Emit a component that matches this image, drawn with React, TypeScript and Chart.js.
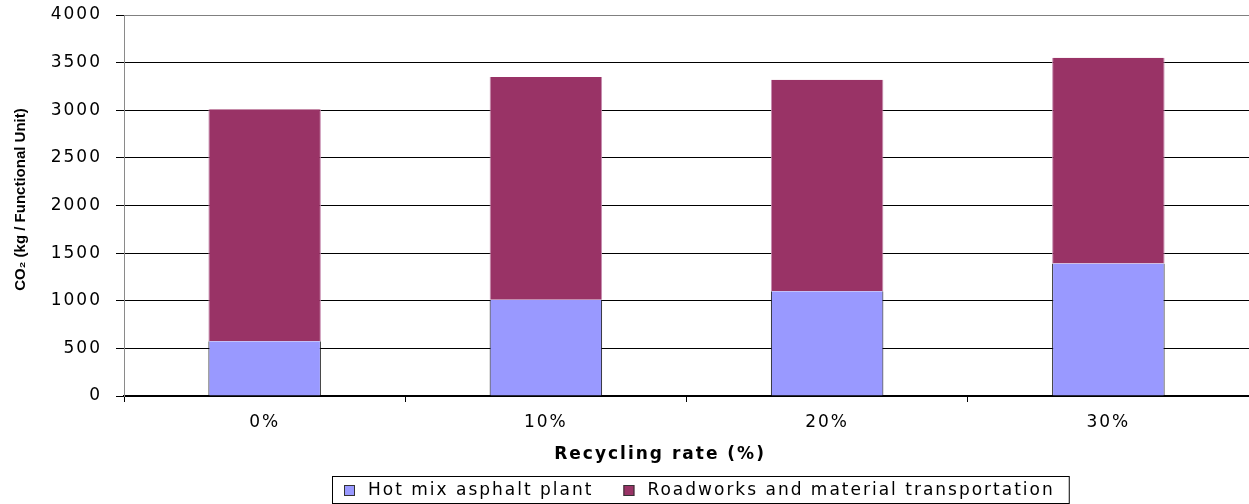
import { useEffect, useRef } from 'react';
import { Chart, registerables } from 'chart.js';

Chart.register(...registerables);

const categories = ['0%', '10%', '20%', '30%'];
const hotMixPlant = [575, 1010, 1100, 1390];
const roadworksTransport = [2435, 2340, 2220, 2160];
const seriesLabels = ['Hot mix asphalt plant', 'Roadworks and material transportation'];
const seriesColors = ['#9999FF', '#993366'];
const yMin = 0;
const yMax = 4000;
const yStep = 500;
const yTitle = 'CO\u2082 (kg / Functional Unit)';
const xTitle = 'Recycling rate (%)';

const SPACING = '2px';

const spacingPlugin = {
  id: 'spacing',
  beforeUpdate(chart: any) {
    chart.ctx.letterSpacing = SPACING;
  },
  beforeLayout(chart: any) {
    chart.ctx.letterSpacing = SPACING;
  },
  beforeDraw(chart: any) {
    chart.ctx.letterSpacing = SPACING;
  },
};

const decorPlugin = {
  id: 'decor',
  afterDraw(chart: any) {
    const ctx = chart.ctx as CanvasRenderingContext2D;
    const ca = chart.chartArea;
    ctx.save();

    // Y axis title (not stretched)
    (ctx as any).letterSpacing = '0px';
    ctx.fillStyle = '#000';
    ctx.font = 'bold 15px "Liberation Sans", Arial, sans-serif';
    ctx.textAlign = 'center';
    ctx.textBaseline = 'middle';
    ctx.translate(21, (ca.top + ca.bottom) / 2 - 6);
    ctx.rotate(-Math.PI / 2);
    ctx.fillText(yTitle, 0, 0);
    ctx.setTransform(1, 0, 0, 1, 0, 0);

    // X axis title
    (ctx as any).letterSpacing = SPACING;
    ctx.font = 'bold 17px "DejaVu Sans", sans-serif';
    ctx.textAlign = 'center';
    ctx.textBaseline = 'middle';
    ctx.fillText(xTitle, ca.left + (ca.right - ca.left) * 0.4765, ca.bottom + 59);

    // Legend
    ctx.font = '17px "DejaVu Sans", sans-serif';
    const items = chart.data.datasets.map((ds: any) => ({
      label: ds.label,
      color: ds.backgroundColor,
      w: ctx.measureText(ds.label).width,
    }));
    const padL = 12, box = 11, gapBT = 13, gapItems = 30, padR = 14;
    let total = padL + padR;
    items.forEach((it: any, i: number) => {
      total += box + gapBT + it.w + (i > 0 ? gapItems : 0);
    });
    const top = ca.bottom + 80;
    const h = 27;
    const left = Math.round((ca.left + ca.right) / 2 + 14 - total / 2);
    ctx.strokeStyle = '#000';
    ctx.lineWidth = 1;
    ctx.strokeRect(left + 0.5, top + 0.5, total, h);
    let x = left + padL;
    const cy = top + h / 2 + 1;
    items.forEach((it: any, i: number) => {
      if (i > 0) x += gapItems;
      ctx.fillStyle = it.color;
      ctx.fillRect(x, Math.round(cy - 5.5), box, box);
      ctx.strokeStyle = '#333';
      ctx.strokeRect(x + 0.5, Math.round(cy - 5.5) + 0.5, box - 1, box - 1);
      x += box + gapBT;
      ctx.fillStyle = '#000';
      ctx.textAlign = 'left';
      ctx.textBaseline = 'middle';
      ctx.fillText(it.label, x, cy);
      x += it.w;
    });
    ctx.restore();
  },
};

export default function App() {
  const canvasRef = useRef<HTMLCanvasElement | null>(null);

  useEffect(() => {
    document.body.style.margin = '0';
    const canvas = canvasRef.current;
    if (!canvas) return;
    const chart = new Chart(canvas, {
      type: 'bar',
      data: {
        labels: categories,
        datasets: [
          {
            label: seriesLabels[0],
            data: hotMixPlant,
            backgroundColor: seriesColors[0],
            borderColor: '#111',
            borderWidth: { left: 1, right: 1, top: 0, bottom: 0 },
            borderSkipped: false,
            barPercentage: 0.4,
            categoryPercentage: 1.0,
          },
          {
            label: seriesLabels[1],
            data: roadworksTransport,
            backgroundColor: seriesColors[1],
            borderColor: '#c78db0',
            borderWidth: { left: 1, right: 1, top: 0, bottom: 0 },
            borderSkipped: false,
            barPercentage: 0.4,
            categoryPercentage: 1.0,
          },
        ],
      },
      options: {
        animation: false,
        responsive: true,
        maintainAspectRatio: false,
        layout: { padding: { top: 15, right: 0, bottom: 28, left: 0 } },
        plugins: {
          legend: { display: false },
          tooltip: { enabled: false },
          title: { display: false },
        },
        scales: {
          x: {
            stacked: true,
            grid: {
              display: true,
              drawOnChartArea: false,
              drawTicks: true,
              tickLength: 6,
              color: '#000',
              offset: true,
            },
            border: { display: true, color: '#000', width: 2 },
            ticks: {
              color: '#000',
              font: { family: '"DejaVu Sans", sans-serif', size: 17 },
              padding: 10,
              maxRotation: 0,
            },
            afterFit(scale: any) {
              scale.height = 80;
              scale.paddingLeft = 0;
              scale.paddingRight = 0;
            },
          },
          y: {
            stacked: true,
            min: yMin,
            max: yMax,
            ticks: {
              stepSize: yStep,
              color: '#000',
              font: { family: '"DejaVu Sans", sans-serif', size: 17 },
              padding: 14,
              callback: (v: any) => String(v),
            },
            grid: {
              color: (c: any) => (c.tick && c.tick.value === yMax ? '#808080' : '#000'),
              tickColor: '#000',
              tickLength: 8,
              drawTicks: true,
              lineWidth: 1,
            },
            border: { display: true, color: '#8a8a8a', width: 1 },
            afterFit(scale: any) {
              scale.width = 124;
              scale.paddingTop = 0;
              scale.paddingBottom = 0;
            },
          },
        },
      },
      plugins: [spacingPlugin, decorPlugin],
    } as any);
    return () => chart.destroy();
  }, []);

  return (
    <div style={{ position: 'relative', width: '1249px', height: '504px' }}>
      <canvas ref={canvasRef} />
    </div>
  );
}
